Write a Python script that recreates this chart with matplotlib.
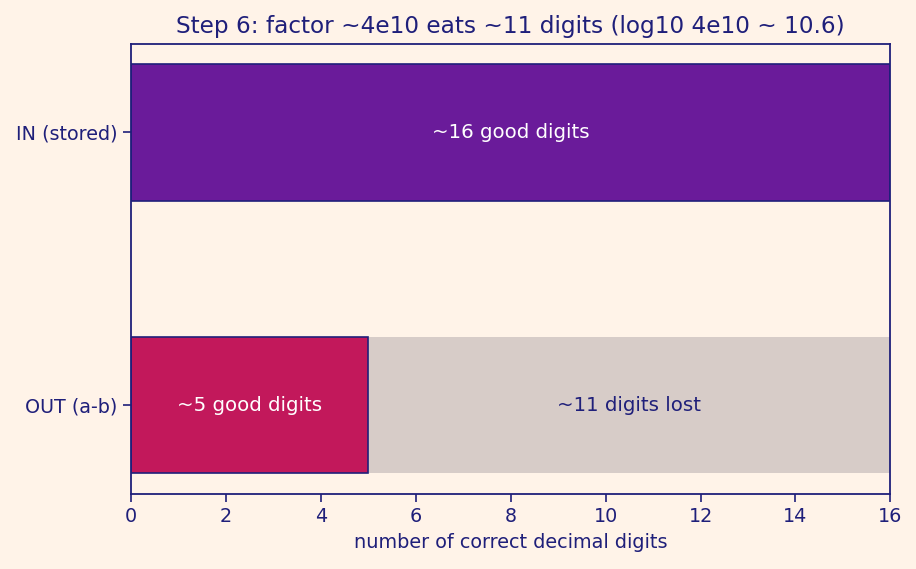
import matplotlib.pyplot as plt

# 数据
labels = ['OUT (a-b)', 'IN (stored)']
good_digits = [5, 16]
lost_digits = [11, 0]
total_digits = 16

navy = '#1F1F7A'
bg = '#FFF3E8'

plt.rcParams['font.family'] = 'DejaVu Sans'
plt.rcParams['text.color'] = navy
plt.rcParams['axes.labelcolor'] = navy
plt.rcParams['xtick.color'] = navy
plt.rcParams['ytick.color'] = navy
plt.rcParams['axes.edgecolor'] = navy

fig, ax = plt.subplots(figsize=(9.16, 5.69), dpi=100)
fig.patch.set_facecolor(bg)
ax.set_facecolor(bg)

# 丢失的位数（灰色）
ax.barh(labels[0], lost_digits[0], left=good_digits[0], height=0.5,
        color='#D7CCC8', edgecolor='none')
# 有效位数
ax.barh(labels[0], good_digits[0], height=0.5, color='#C2185B',
        edgecolor=navy, linewidth=1.2)
ax.barh(labels[1], good_digits[1], height=0.5, color='#6A1B9A',
        edgecolor=navy, linewidth=1.2)

ax.text(good_digits[1] / 2, 1, '~16 good digits', ha='center', va='center',
        color='white', fontsize=14.2)
ax.text(good_digits[0] / 2, 0, '~5 good digits', ha='center', va='center',
        color='white', fontsize=14.2)
ax.text(good_digits[0] + lost_digits[0] / 2, 0, '~11 digits lost',
        ha='center', va='center', color=navy, fontsize=14.2)

ax.set_xlim(0, total_digits)
ax.set_xlabel('number of correct decimal digits', fontsize=13.9, labelpad=5)
ax.set_title('Step 6: factor ~4e10 eats ~11 digits (log10 4e10 ~ 10.6)',
             fontsize=16.7, color=navy, pad=8)
ax.tick_params(labelsize=13.8, width=1.2, length=6)
for s in ax.spines.values():
    s.set_linewidth(1.3)

plt.subplots_adjust(left=0.143, right=0.972, top=0.923, bottom=0.132)
plt.savefig('out.png', facecolor=bg)
